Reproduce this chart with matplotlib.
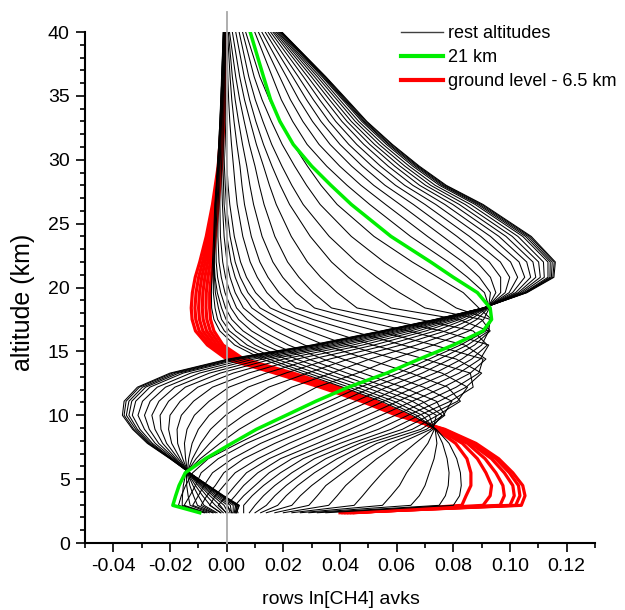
"""Rows of the ln[CH4] averaging kernel matrix plotted against altitude."""

import matplotlib
matplotlib.use("Agg")
import matplotlib.pyplot as plt
from matplotlib.lines import Line2D
from matplotlib.ticker import MultipleLocator, FormatStrFormatter


# altitude levels (km) shared by every kernel row
levels_km = [2.37, 2.95, 3.7, 4.5, 5.5, 6.6, 7.8, 8.9, 10.0, 11.1, 12.2, 13.3, 14.4, 15.5, 16.6,
             17.5, 18.4, 19.6, 20.8, 22.0, 24.0, 26.5, 28.0, 29.5, 31.2, 33.0, 34.7, 36.5, 40.0]

# rows for ground level ... 6.5 km (red)
red_rows = [
    [0.040, 0.1040, 0.1053, 0.1045, 0.1010, 0.0960, 0.0880, 0.0770, 0.0600, 0.0475, 0.0330, 0.0170, 0.0000,
     -0.0068, -0.0110, -0.0122, -0.0125, -0.0121, -0.0111, -0.0095, -0.0072, -0.0050, -0.0040, -0.0030,
     -0.0024, -0.0018, -0.0014, -0.0011, -0.0005],
    [0.041, 0.1020, 0.1035, 0.1030, 0.0998, 0.0950, 0.0872, 0.0765, 0.0607, 0.0485, 0.0342, 0.0183, 0.0012,
     -0.0057, -0.0097, -0.0109, -0.0112, -0.0108, -0.0099, -0.0085, -0.0065, -0.0046, -0.0037, -0.0028,
     -0.0022, -0.0016, -0.0013, -0.0010, -0.0004],
    [0.042, 0.1000, 0.1015, 0.1010, 0.0980, 0.0935, 0.0862, 0.0760, 0.0615, 0.0495, 0.0355, 0.0196, 0.0024,
     -0.0046, -0.0084, -0.0096, -0.0099, -0.0096, -0.0088, -0.0076, -0.0058, -0.0042, -0.0033, -0.0025,
     -0.0020, -0.0015, -0.0012, -0.0009, -0.0004],
    [0.043, 0.0965, 0.0980, 0.0975, 0.0950, 0.0912, 0.0850, 0.0755, 0.0622, 0.0505, 0.0367, 0.0209, 0.0036,
     -0.0035, -0.0071, -0.0083, -0.0086, -0.0084, -0.0077, -0.0067, -0.0052, -0.0038, -0.0030, -0.0023,
     -0.0018, -0.0013, -0.0010, -0.0008, -0.0003],
    [0.044, 0.0905, 0.0930, 0.0935, 0.0915, 0.0885, 0.0832, 0.0748, 0.0630, 0.0515, 0.0380, 0.0222, 0.0048,
     -0.0024, -0.0058, -0.0070, -0.0073, -0.0072, -0.0066, -0.0058, -0.0046, -0.0034, -0.0027, -0.0020,
     -0.0016, -0.0012, -0.0009, -0.0007, -0.0003],
    [0.045, 0.0830, 0.0845, 0.0862, 0.0862, 0.0848, 0.0808, 0.0740, 0.0638, 0.0525, 0.0392, 0.0235, 0.0060,
     -0.0013, -0.0045, -0.0057, -0.0060, -0.0060, -0.0055, -0.0049, -0.0040, -0.0030, -0.0024, -0.0018,
     -0.0014, -0.0010, -0.0008, -0.0006, -0.0002],
]

# row for 21 km (green)
green_row = [-0.0095, -0.0190, -0.0180, -0.0168, -0.0146, -0.0075, 0.0018, 0.0105, 0.0210, 0.0315, 0.0430,
             0.0565, 0.0680, 0.0800, 0.0905, 0.0935, 0.0930, 0.0885, 0.0800, 0.0720, 0.0580, 0.0440, 0.0368,
             0.0300, 0.0235, 0.0188, 0.0155, 0.0130, 0.0083]

# black rows between 6.5 km and ~12 km
black_lower = [
    [0.035, 0.080, 0.0822, 0.0828, 0.0825, 0.0812, 0.0785, 0.0740, 0.0655, 0.0545, 0.0410, 0.0265, 0.0125,
     0.0028, -0.0024, -0.0045, -0.0053, -0.0054, -0.0052, -0.0050, -0.0046, -0.0042, -0.0037, -0.0033,
     -0.0028, -0.0024, -0.0021, -0.0018, -0.0012],
    [0.032, 0.075, 0.0772, 0.0782, 0.0785, 0.0778, 0.0762, 0.0738, 0.0670, 0.0565, 0.0432, 0.0288, 0.0148,
     0.0048, -0.0008, -0.0032, -0.0041, -0.0047, -0.0047, -0.0046, -0.0043, -0.0040, -0.0036, -0.0032,
     -0.0028, -0.0024, -0.0020, -0.0017, -0.0012],
    [0.029, 0.065, 0.0680, 0.0700, 0.0715, 0.0732, 0.0742, 0.0736, 0.0690, 0.0590, 0.0458, 0.0315, 0.0175,
     0.0072, 0.0010, -0.0018, -0.0029, -0.0040, -0.0043, -0.0044, -0.0042, -0.0039, -0.0035, -0.0031,
     -0.0027, -0.0023, -0.0020, -0.0017, -0.0011],
    [0.026, 0.055, 0.0580, 0.0610, 0.0635, 0.0670, 0.0710, 0.0733, 0.0715, 0.0620, 0.0490, 0.0348, 0.0208,
     0.0100, 0.0032, -0.0002, -0.0018, -0.0033, -0.0041, -0.0044, -0.0043, -0.0037, -0.0034, -0.0030,
     -0.0026, -0.0022, -0.0019, -0.0016, -0.0011],
    [0.023, 0.045, 0.0480, 0.0510, 0.0550, 0.0600, 0.0665, 0.0728, 0.0740, 0.0655, 0.0525, 0.0385, 0.0245,
     0.0133, 0.0058, 0.0018, -0.0004, -0.0021, -0.0032, -0.0037, -0.0038, -0.0034, -0.0031, -0.0028,
     -0.0025, -0.0021, -0.0018, -0.0015, -0.0010],
    [0.020, 0.036, 0.0390, 0.0420, 0.0470, 0.0530, 0.0610, 0.0720, 0.0760, 0.0690, 0.0565, 0.0425, 0.0288,
     0.0172, 0.0088, 0.0042, 0.0015, -0.0006, -0.0019, -0.0027, -0.0031, -0.0030, -0.0028, -0.0026,
     -0.0023, -0.0020, -0.0017, -0.0014, -0.0009],
    [0.017, 0.029, 0.0320, 0.0350, 0.0410, 0.0480, 0.0570, 0.0705, 0.0770, 0.0740, 0.0620, 0.0480, 0.0340,
     0.0218, 0.0125, 0.0072, 0.0035, 0.0012, -0.0004, -0.0014, -0.0022, -0.0024, -0.0024, -0.0023,
     -0.0021, -0.0018, -0.0016, -0.0013, -0.0008],
    [0.014, 0.023, 0.0260, 0.0300, 0.0360, 0.0430, 0.0530, 0.0685, 0.0765, 0.0795, 0.0695, 0.0555, 0.0410,
     0.0275, 0.0172, 0.0108, 0.0059, 0.0030, 0.0012, 0.0001, -0.0009, -0.0015, -0.0017, -0.0018,
     -0.0017, -0.0016, -0.0014, -0.0012, -0.0008],
    [0.012, 0.018, 0.0210, 0.0250, 0.0310, 0.0390, 0.0500, 0.0655, 0.0745, 0.0825, 0.0780, 0.0650, 0.0495,
     0.0345, 0.0228, 0.0148, 0.0089, 0.0052, 0.0030, 0.0015, 0.0001, -0.0009, -0.0011, -0.0013,
     -0.0013, -0.0013, -0.0012, -0.0010, -0.0007],
    [0.010, 0.014, 0.0170, 0.0210, 0.0270, 0.0350, 0.0470, 0.0620, 0.0715, 0.0815, 0.0850, 0.0760, 0.0595,
     0.0425, 0.0290, 0.0192, 0.0118, 0.0075, 0.0048, 0.0030, 0.0012, -0.0001, -0.0005, -0.0008,
     -0.0010, -0.0010, -0.0009, -0.0008, -0.0005],
]

# black rows ~13 km ... 20 km (the "sail" right of the green row)
black_sail = [
    [0.008, 0.010, 0.0130, 0.0170, 0.0230, 0.0310, 0.0440, 0.0580, 0.0680, 0.0790, 0.0870, 0.0860, 0.0700,
     0.0515, 0.0360, 0.0245, 0.0154, 0.0102, 0.0070, 0.0049, 0.0027, 0.0011, 0.0005, 0.0001,
     -0.0003, -0.0005, -0.0005, -0.0005, -0.0003],
    [0.006, 0.006, 0.0090, 0.0130, 0.0190, 0.0270, 0.0400, 0.0535, 0.0640, 0.0750, 0.0845, 0.0900, 0.0810,
     0.0620, 0.0440, 0.0305, 0.0195, 0.0142, 0.0108, 0.0083, 0.0057, 0.0037, 0.0030, 0.0024,
     0.0017, 0.0011, 0.0007, 0.0004, 0.0000],
    [0.004, 0.003, 0.0060, 0.0100, 0.0150, 0.0230, 0.0360, 0.0485, 0.0595, 0.0705, 0.0810, 0.0890, 0.0905,
     0.0730, 0.0530, 0.0375, 0.0243, 0.0185, 0.0146, 0.0117, 0.0087, 0.0063, 0.0054, 0.0047,
     0.0036, 0.0026, 0.0018, 0.0012, 0.0003],
    [0.002, 0.000, 0.0030, 0.0060, 0.0110, 0.0190, 0.0320, 0.0435, 0.0545, 0.0655, 0.0765, 0.0860, 0.0915,
     0.0840, 0.0640, 0.0460, 0.0310, 0.0245, 0.0198, 0.0163, 0.0125, 0.0095, 0.0082, 0.0071,
     0.0056, 0.0042, 0.0030, 0.0020, 0.0006],
    [0.000, -0.003, 0.0000, 0.0030, 0.0070, 0.0150, 0.0270, 0.0385, 0.0495, 0.0605, 0.0715, 0.0820, 0.0895,
     0.0925, 0.0760, 0.0560, 0.0370, 0.0305, 0.0255, 0.0215, 0.0170, 0.0132, 0.0115, 0.0100,
     0.0080, 0.0062, 0.0046, 0.0032, 0.0010],
    [-0.002, -0.006, -0.0040, -0.0010, 0.0030, 0.0110, 0.0220, 0.0335, 0.0445, 0.0555, 0.0665, 0.0780, 0.0865,
     0.0920, 0.0870, 0.0680, 0.0460, 0.0390, 0.0332, 0.0285, 0.0228, 0.0175, 0.0151, 0.0130,
     0.0105, 0.0083, 0.0063, 0.0046, 0.0020],
    [-0.004, -0.009, -0.0070, -0.0040, -0.0010, 0.0060, 0.0170, 0.0285, 0.0395, 0.0505, 0.0615, 0.0735, 0.0830,
     0.0900, 0.0925, 0.0820, 0.0580, 0.0500, 0.0430, 0.0370, 0.0295, 0.0222, 0.0189, 0.0160,
     0.0130, 0.0103, 0.0081, 0.0062, 0.0032],
    [-0.005, -0.012, -0.0100, -0.0080, -0.0050, 0.0020, 0.0120, 0.0235, 0.0345, 0.0455, 0.0565, 0.0690, 0.0790,
     0.0875, 0.0930, 0.0900, 0.0700, 0.0610, 0.0530, 0.0458, 0.0362, 0.0270, 0.0230, 0.0195,
     0.0159, 0.0128, 0.0101, 0.0078, 0.0044],
    [-0.007, -0.015, -0.0130, -0.0110, -0.0090, -0.0030, 0.0070, 0.0185, 0.0295, 0.0405, 0.0515, 0.0645, 0.0750,
     0.0850, 0.0925, 0.0930, 0.0810, 0.0725, 0.0638, 0.0555, 0.0440, 0.0330, 0.0282, 0.0240,
     0.0196, 0.0158, 0.0125, 0.0097, 0.0056],
    [-0.008, -0.017, -0.0160, -0.0145, -0.0120, -0.0065, 0.0040, 0.0140, 0.0250, 0.0360, 0.0470, 0.0605, 0.0715,
     0.0825, 0.0915, 0.0935, 0.0890, 0.0835, 0.0745, 0.0655, 0.0520, 0.0390, 0.0333, 0.0285,
     0.0235, 0.0190, 0.0151, 0.0117, 0.0067],
]

# black rows above 21 km
black_upper = [
    [-0.0077, -0.0157, -0.0156, -0.0153, -0.0144, -0.0093, -0.0024, 0.0044, 0.0129, 0.0225, 0.0317, 0.0462, 0.0586,
     0.0730, 0.0855, 0.0907, 0.0927, 0.0910, 0.0850, 0.0782, 0.0649, 0.0505, 0.0425, 0.0353,
     0.0284, 0.0233, 0.0193, 0.0161, 0.0099],
    [-0.0061, -0.0129, -0.0136, -0.0141, -0.0142, -0.0108, -0.0060, -0.0009, 0.0060, 0.0143, 0.0229, 0.0370, 0.0505,
     0.0670, 0.0811, 0.0883, 0.0924, 0.0931, 0.0892, 0.0834, 0.0709, 0.0561, 0.0474, 0.0399,
     0.0326, 0.0269, 0.0225, 0.0187, 0.0112],
    [-0.0047, -0.0103, -0.0117, -0.0130, -0.0140, -0.0121, -0.0092, -0.0057, -0.0004, 0.0068, 0.0148, 0.0285, 0.0430,
     0.0615, 0.0772, 0.0861, 0.0921, 0.0950, 0.0931, 0.0883, 0.0763, 0.0612, 0.0519, 0.0441,
     0.0365, 0.0303, 0.0255, 0.0211, 0.0124],
    [-0.0034, -0.0080, -0.0100, -0.0119, -0.0139, -0.0134, -0.0122, -0.0100, -0.0062, -0.0001, 0.0075, 0.0208, 0.0363,
     0.0565, 0.0736, 0.0841, 0.0918, 0.0967, 0.0967, 0.0927, 0.0813, 0.0659, 0.0559, 0.0479,
     0.0400, 0.0333, 0.0282, 0.0233, 0.0136],
    [-0.0022, -0.0058, -0.0085, -0.0110, -0.0138, -0.0145, -0.0149, -0.0140, -0.0114, -0.0062, 0.0008, 0.0139, 0.0302,
     0.0520, 0.0703, 0.0823, 0.0916, 0.0983, 0.0999, 0.0966, 0.0857, 0.0700, 0.0596, 0.0513,
     0.0431, 0.0361, 0.0306, 0.0253, 0.0146],
    [-0.0012, -0.0040, -0.0071, -0.0101, -0.0136, -0.0155, -0.0173, -0.0175, -0.0160, -0.0117, -0.0050, 0.0077, 0.0248,
     0.0480, 0.0675, 0.0807, 0.0914, 0.0997, 0.1027, 0.1002, 0.0897, 0.0738, 0.0628, 0.0543,
     0.0459, 0.0385, 0.0328, 0.0271, 0.0155],
    [-0.0003, -0.0023, -0.0059, -0.0094, -0.0135, -0.0164, -0.0194, -0.0205, -0.0200, -0.0164, -0.0102, 0.0023, 0.0201,
     0.0445, 0.0649, 0.0793, 0.0912, 0.1009, 0.1052, 0.1032, 0.0931, 0.0770, 0.0657, 0.0570,
     0.0484, 0.0407, 0.0347, 0.0286, 0.0163],
    [0.0005, -0.0009, -0.0049, -0.0088, -0.0134, -0.0171, -0.0212, -0.0232, -0.0235, -0.0205, -0.0146, -0.0023, 0.0160,
     0.0415, 0.0628, 0.0781, 0.0911, 0.1020, 0.1073, 0.1059, 0.0961, 0.0798, 0.0681, 0.0593,
     0.0505, 0.0425, 0.0363, 0.0299, 0.0169],
    [0.0012, 0.0003, -0.0041, -0.0083, -0.0134, -0.0178, -0.0226, -0.0253, -0.0264, -0.0239, -0.0183, -0.0061, 0.0127,
     0.0390, 0.0610, 0.0771, 0.0910, 0.1029, 0.1091, 0.1081, 0.0986, 0.0821, 0.0702, 0.0612,
     0.0522, 0.0440, 0.0376, 0.0310, 0.0175],
    [0.0017, 0.0013, -0.0033, -0.0078, -0.0133, -0.0183, -0.0240, -0.0273, -0.0290, -0.0270, -0.0216, -0.0096, 0.0096,
     0.0368, 0.0594, 0.0762, 0.0908, 0.1036, 0.1107, 0.1101, 0.1008, 0.0842, 0.0720, 0.0629,
     0.0538, 0.0454, 0.0389, 0.0320, 0.0180],
    [0.0023, 0.0023, -0.0026, -0.0074, -0.0132, -0.0188, -0.0252, -0.0290, -0.0313, -0.0297, -0.0245, -0.0127, 0.0069,
     0.0348, 0.0579, 0.0754, 0.0907, 0.1043, 0.1121, 0.1118, 0.1028, 0.0861, 0.0736, 0.0644,
     0.0552, 0.0466, 0.0399, 0.0329, 0.0184],
    [0.0027, 0.0031, -0.0020, -0.0070, -0.0132, -0.0193, -0.0262, -0.0306, -0.0333, -0.0321, -0.0271, -0.0154, 0.0046,
     0.0330, 0.0567, 0.0747, 0.0907, 0.1050, 0.1134, 0.1134, 0.1045, 0.0877, 0.0751, 0.0657,
     0.0564, 0.0477, 0.0409, 0.0337, 0.0188],
]

# the dense outer bundle (highest rows)
black_envelope = [
    [0.0030, 0.0036, -0.0017, -0.0068, -0.0132, -0.0195, -0.0268, -0.0315, -0.0345, -0.0335, -0.0286, -0.0169, 0.0032,
     0.0320, 0.0559, 0.0743, 0.0906, 0.1053, 0.1141, 0.1142, 0.1055, 0.0886, 0.0759, 0.0665,
     0.0571, 0.0483, 0.0414, 0.0341, 0.0191],
    [0.0032, 0.0039, -0.0014, -0.0067, -0.0131, -0.0197, -0.0273, -0.0321, -0.0354, -0.0345, -0.0297, -0.0181, 0.0022,
     0.0313, 0.0554, 0.0740, 0.0906, 0.1056, 0.1146, 0.1149, 0.1063, 0.0893, 0.0765, 0.0671,
     0.0576, 0.0487, 0.0418, 0.0345, 0.0192],
    [0.0034, 0.0043, -0.0012, -0.0065, -0.0131, -0.0199, -0.0277, -0.0328, -0.0362, -0.0355, -0.0308, -0.0192, 0.0012,
     0.0305, 0.0549, 0.0737, 0.0905, 0.1058, 0.1151, 0.1156, 0.1070, 0.0900, 0.0771, 0.0676,
     0.0582, 0.0492, 0.0422, 0.0348, 0.0194],
    [0.0035, 0.0045, -0.0010, -0.0064, -0.0131, -0.0200, -0.0280, -0.0332, -0.0368, -0.0362, -0.0315, -0.0200, 0.0005,
     0.0300, 0.0545, 0.0735, 0.0905, 0.1060, 0.1155, 0.1160, 0.1075, 0.0905, 0.0775, 0.0680,
     0.0585, 0.0495, 0.0425, 0.0350, 0.0195],
]

RED = "#ff0000"
GREEN = "#00ee00"

plt.rcParams["font.family"] = ["Liberation Sans", "DejaVu Sans"]
plt.rcParams["axes.unicode_minus"] = False

fig = plt.figure(figsize=(6.25, 6.10), dpi=100)
ax = fig.add_axes([0.136, 0.1098, 0.816, 0.8377])

for row in red_rows:
    ax.plot(row, levels_km, color=RED, lw=2.3, zorder=2)
for row in black_lower + black_sail + black_upper + black_envelope:
    ax.plot(row, levels_km, color="black", lw=0.75, zorder=3)
ax.plot(green_row, levels_km, color=GREEN, lw=2.5, zorder=4)

# zero line, a bit taller than the frame
ax.axvline(0, ymin=0, ymax=1.039, color="#a8a8a8", lw=1.3, zorder=3.5, clip_on=False)

ax.set_xlim(-0.05, 0.13)
ax.set_ylim(0, 40)
ax.xaxis.set_major_locator(MultipleLocator(0.02))
ax.xaxis.set_minor_locator(MultipleLocator(0.01))
ax.xaxis.set_major_formatter(FormatStrFormatter("%.2f"))
ax.yaxis.set_major_locator(MultipleLocator(5))
ax.yaxis.set_minor_locator(MultipleLocator(1))

for side in ("top", "right"):
    ax.spines[side].set_visible(False)
for side in ("left", "bottom"):
    ax.spines[side].set_linewidth(1.5)

ax.tick_params(which="both", direction="out", width=1.2, labelsize=14)
ax.tick_params(which="major", length=6.5)
ax.tick_params(which="minor", length=3.5)
ax.tick_params(axis="x", pad=4)
ax.tick_params(axis="y", pad=4.5)

fig.text(23 / 625, 0.505, "altitude (km)", rotation=90, ha="center", va="center", fontsize=18)
# kept just inside the bottom edge
fig.text(341 / 625, 0.004, "rows ln[CH4] avks", ha="center", va="bottom", fontsize=14)

handles = [
    Line2D([], [], color="#404040", lw=1.0),
    Line2D([], [], color=GREEN, lw=3.0),
    Line2D([], [], color=RED, lw=3.0),
]
ax.legend(handles, ["rest altitudes", "21 km", "ground level - 6.5 km"],
          loc="upper left", bbox_to_anchor=(0.6196, 1.0141), frameon=False,
          fontsize=13, handlelength=2.3, handletextpad=0.33, labelspacing=0.4,
          borderpad=0, borderaxespad=0)

fig.savefig("out.png", dpi=100)
